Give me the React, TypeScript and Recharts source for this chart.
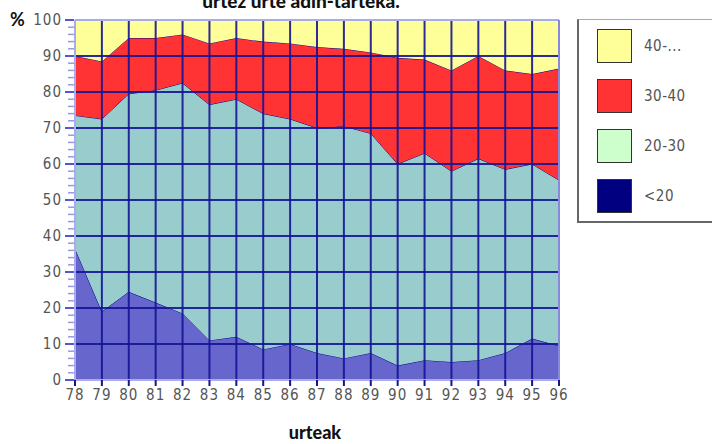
import React from 'react';
import { AreaChart, Area, XAxis, YAxis, ReferenceLine } from 'recharts';

const years = ['78', '79', '80', '81', '82', '83', '84', '85', '86', '87', '88', '89', '90', '91', '92', '93', '94', '95', '96'];
const under20 = [36.5, 19, 24.5, 21.5, 18.5, 11, 12, 8.5, 10, 7.5, 6, 7.5, 4, 5.5, 5, 5.5, 7.5, 11.5, 9.5];
const from20to30 = [37, 53.5, 55, 59, 64, 65.5, 66, 65.5, 62.5, 62.5, 64.5, 61, 56, 57.5, 53, 56, 51, 48.5, 46];
const from30to40 = [16.5, 16, 15.5, 14.5, 13.5, 17, 17, 20, 21, 22.5, 21.5, 22.5, 29.5, 26, 28, 28.5, 27.5, 25, 31];
const over40 = [10, 11.5, 5, 5, 4, 6.5, 5, 6, 6.5, 7.5, 8, 9, 10.5, 11, 14, 10, 14, 15, 13.5];

const yTicks = [0, 2, 4, 6, 8, 10, 12, 14, 16, 18, 20, 22, 24, 26, 28, 30, 32, 34, 36, 38, 40, 42, 44, 46, 48, 50, 52, 54, 56, 58, 60, 62, 64, 66, 68, 70, 72, 74, 76, 78, 80, 82, 84, 86, 88, 90, 92, 94, 96, 98, 100];
const gridValues = [10, 20, 30, 40, 50, 60, 70, 80, 90];

const series = [
  { key: '<20', values: under20, fill: '#6666cc', legend: '#000080' },
  { key: '20-30', values: from20to30, fill: '#99cccc', legend: '#ccffcc' },
  { key: '30-40', values: from30to40, fill: '#ff3333', legend: '#ff3333' },
  { key: '40-...', values: over40, fill: '#ffff99', legend: '#ffff99' },
];

const data = years.map((y, i) => {
  const row: any = { year: y };
  series.forEach((s) => { row[s.key] = s.values[i]; });
  return row;
});

const TICK_FONT = '"Liberation Sans Narrow", "DejaVu Sans Condensed", sans-serif';
const GRID = '#141496';

const YTick = (props: any) => {
  const { x, y, payload } = props;
  const v = payload.value;
  const major = v % 10 === 0;
  return (
    <g>
      <line x1={x - (major ? 10 : 7)} x2={x - 1} y1={y} y2={y} stroke={major ? '#5555cc' : '#9999e0'} strokeWidth={major ? 2 : 1.5} />
      {major && (
        <text x={x - 13} y={y} dy={5} textAnchor="end" fill="#555" fontSize={15} fontFamily={TICK_FONT} letterSpacing={1}>
          {v}
        </text>
      )}
    </g>
  );
};

const LegendBox = () => (
  <div style={{
    position: 'absolute', left: 577, top: 19,
    width: 140, height: 204, boxSizing: 'border-box',
    borderLeft: '2px solid #666', borderBottom: '2px solid #666', borderTop: '1px solid #aaa',
    background: '#fff', paddingTop: 9, paddingLeft: 18,
  }}>
    {[...series].reverse().map((s) => (
      <div key={s.key} style={{ display: 'flex', alignItems: 'center', height: 34, marginBottom: 16 }}>
        <div style={{ width: 35, height: 34, background: s.legend, border: '1px solid #333', boxSizing: 'border-box' }} />
        <span style={{ marginLeft: 12, fontFamily: TICK_FONT, fontSize: 15, color: '#555', letterSpacing: 0.5 }}>{s.key}</span>
      </div>
    ))}
  </div>
);

export default function App() {
  return (
    <div style={{ position: 'absolute', left: 0, top: 0, width: 712, height: 444, background: '#fff', overflow: 'hidden' }}>
      <div style={{ position: 'absolute', left: 0, width: 602, top: -11, textAlign: 'center', fontFamily: 'Lato, sans-serif', fontWeight: 900, fontSize: 19, color: '#111' }}>
        urtez urte adin-tarteka.
      </div>
      <div style={{ position: 'absolute', left: 10, top: 8, fontFamily: 'Lato, sans-serif', fontWeight: 700, fontSize: 18, color: '#111' }}>%</div>
      <div style={{ position: 'absolute', left: 0, width: 630, top: 421, textAlign: 'center', fontFamily: 'Lato, sans-serif', fontWeight: 900, fontSize: 18, color: '#111' }}>
        urteak
      </div>
      <AreaChart width={712} height={444} data={data} margin={{ top: 20, right: 153, bottom: 0, left: 0 }}>
        <XAxis
          dataKey="year"
          height={64}
          axisLine={{ stroke: '#aaaaee', strokeWidth: 2 }}
          tickLine={{ stroke: GRID, strokeWidth: 2 }}
          tickSize={6}
          tickMargin={3}
          interval={0}
          tick={{ fill: '#555', fontSize: 15, fontFamily: TICK_FONT, letterSpacing: 1 }}
        />
        <YAxis
          type="number"
          domain={[0, 100]}
          ticks={yTicks}
          interval={0}
          width={75}
          tickSize={0}
          tickMargin={0}
          tickLine={false}
          axisLine={{ stroke: '#aaaaee', strokeWidth: 2 }}
          tick={<YTick />}
        />
        {series.map((s) => (
          <Area
            key={s.key}
            type="linear"
            dataKey={s.key}
            stackId="1"
            fill={s.fill}
            fillOpacity={1}
            stroke="#000088"
            strokeWidth={1}
            isAnimationActive={false}
          />
        ))}
        {gridValues.map((v) => (
          <ReferenceLine key={'h' + v} y={v} stroke={GRID} strokeWidth={2} strokeOpacity={0.9} />
        ))}
        {years.slice(0, -1).map((y) => (
          <ReferenceLine key={'v' + y} x={y} stroke={GRID} strokeWidth={2} strokeOpacity={0.9} />
        ))}
        <ReferenceLine y={100} stroke="#aaaaee" strokeWidth={2} />
        <ReferenceLine x="96" stroke="#8888dd" strokeWidth={2} />
      </AreaChart>
      <LegendBox />
    </div>
  );
}
